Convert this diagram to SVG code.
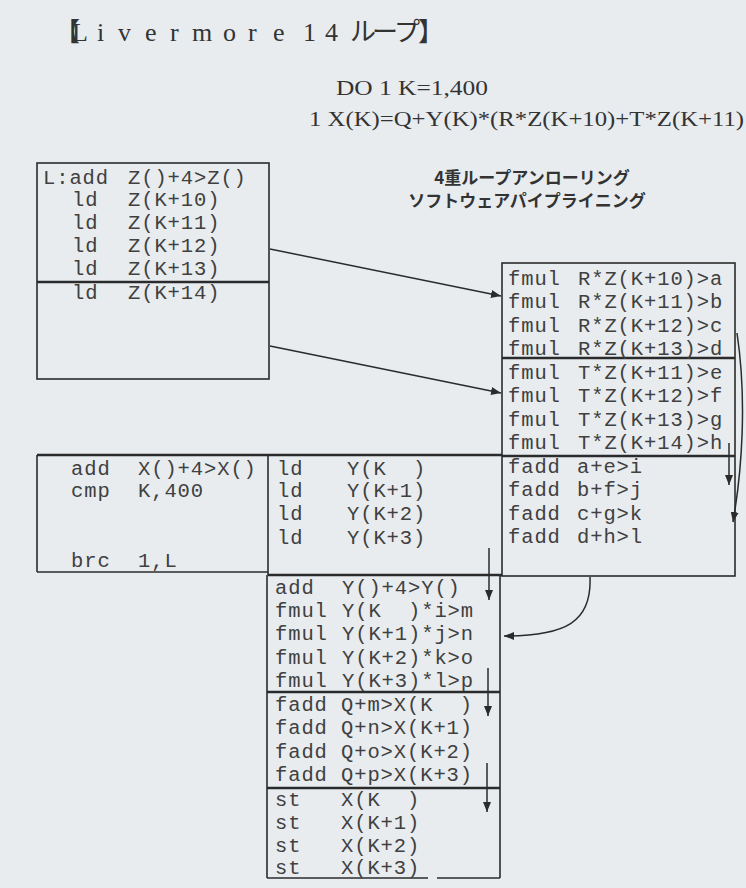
<svg xmlns="http://www.w3.org/2000/svg" width="746" height="888" viewBox="0 0 746 888">
<style>
.code{font-family:"Liberation Mono","DejaVu Sans Mono",monospace;font-size:20.5px;letter-spacing:0.9px;fill:#404040;white-space:pre}
.ln{stroke:#2b2b2b;stroke-width:1.6;fill:none}
.sep{stroke:#2b2b2b;stroke-width:2.6;fill:none}
.con{stroke:#2b2b2b;stroke-width:1.5;fill:none;marker-end:url(#ah)}
.jp{font-family:"Noto Sans CJK JP",sans-serif;font-size:17px;font-weight:bold;fill:#333;text-anchor:middle}
.ser{font-family:"Liberation Serif","Noto Sans CJK JP",serif;fill:#333}
</style>
<defs>
<marker id="ah" markerWidth="10" markerHeight="8" refX="10" refY="4" orient="auto" markerUnits="userSpaceOnUse">
<path d="M0,0 L10,4 L0,8 z" fill="#2b2b2b"/>
</marker>
</defs>
<rect x="0" y="0" width="746" height="888" fill="#e8ecef"/>

<g id="title">
<text class="ser" font-size="26" y="41" x="54 72 97 118 145 170 192 223 248 273 303 325 350 372 394 418">【Livermore14ループ】</text>
</g>

<g id="formula">
<text class="ser" font-size="22" x="336" y="95" textLength="152" lengthAdjust="spacingAndGlyphs">DO 1 K=1,400</text>
<text class="ser" font-size="22" x="309" y="126" textLength="435" lengthAdjust="spacingAndGlyphs">1 X(K)=Q+Y(K)*(R*Z(K+10)+T*Z(K+11)</text>
</g>

<g id="caption">
<text class="jp" x="532" y="184">4重ループアンローリング</text>
<text class="jp" x="527" y="207">ソフトウェアパイプライニング</text>
</g>

<g id="boxA">
<rect class="ln" x="37" y="163" width="232" height="216"/>
<line class="sep" x1="37" y1="282" x2="269" y2="282"/>
<text class="code" y="184"><tspan x="43">L:add</tspan><tspan x="128">Z()+4&gt;Z()</tspan></text>
<text class="code" y="206"><tspan x="72">ld</tspan><tspan x="128">Z(K+10)</tspan></text>
<text class="code" y="229"><tspan x="72">ld</tspan><tspan x="128">Z(K+11)</tspan></text>
<text class="code" y="252"><tspan x="72">ld</tspan><tspan x="128">Z(K+12)</tspan></text>
<text class="code" y="275"><tspan x="72">ld</tspan><tspan x="128">Z(K+13)</tspan></text>
<text class="code" y="299"><tspan x="72">ld</tspan><tspan x="128">Z(K+14)</tspan></text>
</g>

<g id="boxB">
<rect class="ln" x="502" y="263" width="233" height="313"/>
<line class="sep" x1="502" y1="358" x2="735" y2="358"/>
<line class="sep" x1="502" y1="456" x2="735" y2="456"/>
<text class="code" y="285"><tspan x="508">fmul</tspan><tspan x="578">R*Z(K+10)&gt;a</tspan></text>
<text class="code" y="308"><tspan x="508">fmul</tspan><tspan x="578">R*Z(K+11)&gt;b</tspan></text>
<text class="code" y="332"><tspan x="508">fmul</tspan><tspan x="578">R*Z(K+12)&gt;c</tspan></text>
<text class="code" y="355"><tspan x="508">fmul</tspan><tspan x="578">R*Z(K+13)&gt;d</tspan></text>
<text class="code" y="379"><tspan x="508">fmul</tspan><tspan x="578">T*Z(K+11)&gt;e</tspan></text>
<text class="code" y="402"><tspan x="508">fmul</tspan><tspan x="578">T*Z(K+12)&gt;f</tspan></text>
<text class="code" y="426"><tspan x="508">fmul</tspan><tspan x="578">T*Z(K+13)&gt;g</tspan></text>
<text class="code" y="449"><tspan x="508">fmul</tspan><tspan x="578">T*Z(K+14)&gt;h</tspan></text>
<text class="code" y="473"><tspan x="508">fadd</tspan><tspan x="577">a+e&gt;i</tspan></text>
<text class="code" y="496"><tspan x="508">fadd</tspan><tspan x="577">b+f&gt;j</tspan></text>
<text class="code" y="520"><tspan x="508">fadd</tspan><tspan x="577">c+g&gt;k</tspan></text>
<text class="code" y="543"><tspan x="508">fadd</tspan><tspan x="577">d+h&gt;l</tspan></text>
</g>

<g id="boxC">
<line class="sep" x1="37" y1="455" x2="502" y2="455"/>
<line class="ln" x1="37" y1="455" x2="37" y2="572"/>
<line class="ln" x1="37" y1="572" x2="268" y2="572"/>
<text class="code" y="475"><tspan x="71">add</tspan><tspan x="138">X()+4&gt;X()</tspan></text>
<text class="code" y="497"><tspan x="71">cmp</tspan><tspan x="138">K,400</tspan></text>
<text class="code" y="567"><tspan x="71">brc</tspan><tspan x="138">1,L</tspan></text>
</g>

<g id="boxD">
<line class="ln" x1="268" y1="455" x2="268" y2="575"/>
<text class="code" y="475"><tspan x="277">ld</tspan><tspan x="347">Y(K  )</tspan></text>
<text class="code" y="497"><tspan x="277">ld</tspan><tspan x="347">Y(K+1)</tspan></text>
<text class="code" y="520"><tspan x="277">ld</tspan><tspan x="347">Y(K+2)</tspan></text>
<text class="code" y="544"><tspan x="277">ld</tspan><tspan x="347">Y(K+3)</tspan></text>
</g>

<g id="boxE">
<line class="sep" x1="268" y1="575" x2="502" y2="575"/>
<line class="ln" x1="267" y1="575" x2="267" y2="878"/>
<line class="ln" x1="500" y1="575" x2="500" y2="878"/>
<line class="ln" x1="267" y1="878" x2="428" y2="878"/>
<line class="ln" x1="437" y1="878" x2="500" y2="878"/>
<line class="sep" x1="267" y1="692" x2="500" y2="692"/>
<line class="sep" x1="267" y1="788" x2="500" y2="788"/>
<text class="code" y="594"><tspan x="275">add</tspan><tspan x="342">Y()+4&gt;Y()</tspan></text>
<text class="code" y="617"><tspan x="275">fmul</tspan><tspan x="342">Y(K  )*i&gt;m</tspan></text>
<text class="code" y="640"><tspan x="275">fmul</tspan><tspan x="342">Y(K+1)*j&gt;n</tspan></text>
<text class="code" y="664"><tspan x="275">fmul</tspan><tspan x="342">Y(K+2)*k&gt;o</tspan></text>
<text class="code" y="687"><tspan x="275">fmul</tspan><tspan x="342">Y(K+3)*l&gt;p</tspan></text>
<text class="code" y="711"><tspan x="275">fadd</tspan><tspan x="341">Q+m&gt;X(K  )</tspan></text>
<text class="code" y="734"><tspan x="275">fadd</tspan><tspan x="341">Q+n&gt;X(K+1)</tspan></text>
<text class="code" y="758"><tspan x="275">fadd</tspan><tspan x="341">Q+o&gt;X(K+2)</tspan></text>
<text class="code" y="781"><tspan x="275">fadd</tspan><tspan x="341">Q+p&gt;X(K+3)</tspan></text>
<text class="code" y="806"><tspan x="275">st</tspan><tspan x="341">X(K  )</tspan></text>
<text class="code" y="829"><tspan x="275">st</tspan><tspan x="341">X(K+1)</tspan></text>
<text class="code" y="852"><tspan x="275">st</tspan><tspan x="341">X(K+2)</tspan></text>
<text class="code" y="874"><tspan x="275">st</tspan><tspan x="341">X(K+3)</tspan></text>
</g>

<g id="connectors">
<path class="con" d="M270,249 L501,296"/>
<path class="con" d="M270,346 L501,393"/>
<path class="con" d="M737,333 C747,400 742,470 733,522"/>
<path class="con" d="M729,443 L729,485"/>
<path class="con" d="M590,577 C592,622 566,636 504,636"/>
<path class="con" d="M489,548 L489,600"/>
<path class="con" d="M488,668 L488,716"/>
<path class="con" d="M487,763 L487,812"/>
</g>
</svg>
